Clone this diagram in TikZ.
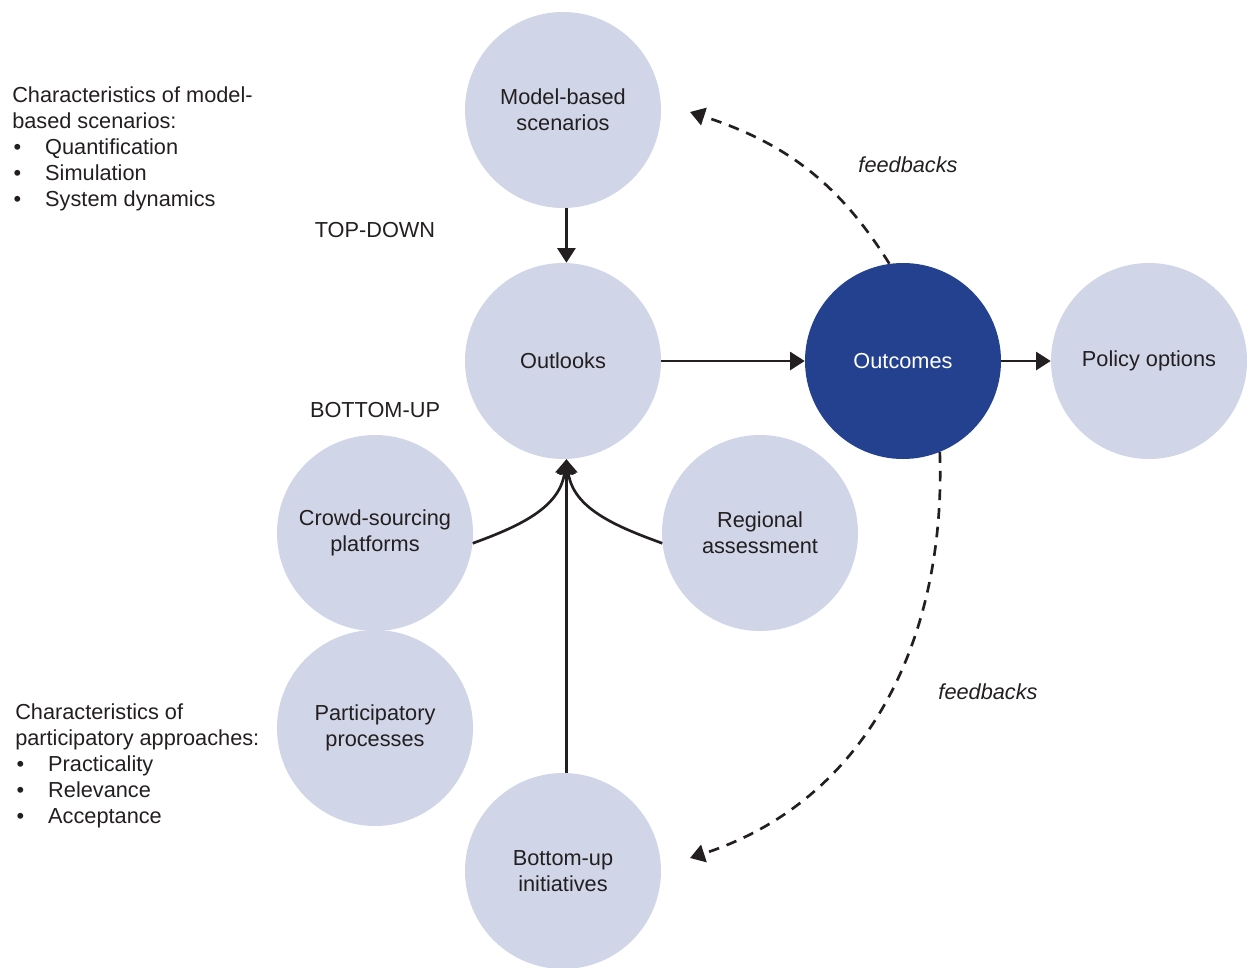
\documentclass[tikz,border=0pt]{standalone}
\usepackage{fontspec}
\setmainfont{Liberation Sans}
\usetikzlibrary{arrows.meta,calc}
\definecolor{lightcirc}{HTML}{D0D5E8}
\definecolor{darkcirc}{HTML}{24418F}
\definecolor{txt}{HTML}{231F20}
\newcommand{\bul}{\makebox[24.75pt][l]{\hspace{1pt}\textbullet}}

\begin{document}
\begin{tikzpicture}[x=0.75pt,y=-0.75pt,
		bubble/.style={circle,fill=lightcirc,minimum size=147pt,inner sep=0pt,align=center,text=txt,font=\fontsize{16.3}{19.6}\selectfont},
		dark/.style={bubble,fill=darkcirc,text=white},
		link/.style={line width=2pt,draw=txt,-{Triangle[length=11pt,width=13.5pt]}},
		fb/.style={link,dash pattern=on 8pt off 6pt},
		lbl/.style={text=txt,font=\fontsize{16.3}{19.6}\selectfont,inner sep=0pt}]
		\useasboundingbox (0,0) rectangle (1247,968);
		%
		\node[bubble] (model) at (563,110) {Model-based\\scenarios};
		\node[bubble] (outlooks) at (563,361) {Outlooks};
		\node[dark] (outcomes) at (903,361) {Outcomes};
		\node[bubble] (policy) at (1149,361) {Policy options};
		\node[bubble] (crowd) at (375,533) {Crowd-sourcing\\platforms};
		\node[bubble] (regional) at (760,533) {Regional\\assessment};
		\node[bubble] (particip) at (375,728) {Participatory\\processes};
		\node[bubble] (bottomup) at (563,871) {Bottom-up\\initiatives};
		\coordinate (fbtop) at (690,112);
		\coordinate (fbbot) at (690,858);
		%
		\draw[link] (model.-88) -- (outlooks.88);
		\draw[link] (outlooks) -- (outcomes);
		\draw[link] (outcomes) -- (policy);
		\draw[link] (bottomup.88) -- (outlooks.-88);
		\draw[link] (crowd.-6) to[out=20,in=-98] (outlooks.-88);
		\draw[link] (regional.186) to[out=160,in=-82] (outlooks.-88);
		\draw[fb] (outcomes.98) to[out=122,in=-18] (fbtop);
		\draw[fb] (outcomes.-68) to[out=-88,in=18] (fbbot);
		%
		\node[lbl,font=\fontsize{16.3}{19.6}\selectfont\itshape] (fbtoplbl) at (908,165) {feedbacks};
		\node[lbl,font=\fontsize{16.3}{19.6}\selectfont\itshape] (fbbotlbl) at (988,692) {feedbacks};
		\node[lbl] (topdown) at (375,230) {TOP-DOWN};
		\node[lbl] (bottomuplbl) at (375,410) {BOTTOM-UP};
		%
		\node[lbl,anchor=north west,align=left] (modelchar) at (12,86) {Characteristics of model-\\based scenarios:\\\bul Quantification\\\bul Simulation\\\bul System dynamics};
		\node[lbl,anchor=north west,align=left] (partchar) at (15,703) {Characteristics of\\participatory approaches:\\\bul Practicality\\\bul Relevance\\\bul Acceptance};
	\end{tikzpicture}
\end{document}
